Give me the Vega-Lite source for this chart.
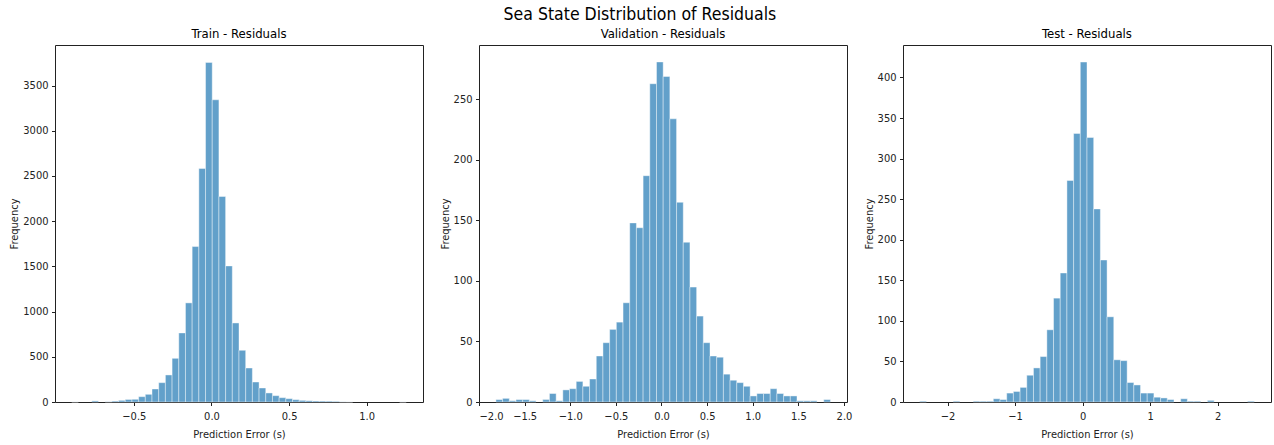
{
  "$schema": "https://vega.github.io/schema/vega-lite/v6.json",
  "background": "white",
  "padding": {"left": 8, "top": 6, "right": 3, "bottom": 4},
  "title": {"text": "Sea State Distribution of Residuals", "fontSize": 17.5, "font": "DejaVu Sans Condensed, Liberation Sans Narrow, DejaVu Sans", "fontWeight": "normal", "anchor": "middle", "color": "black", "offset": 4},
  "spacing": 56,
  "bounds": "flush",
  "data": {"values": [
    {"split": "Train", "bin_start": -0.9000, "bin_end": -0.8569, "count": 1},
    {"split": "Train", "bin_start": -0.7707, "bin_end": -0.7276, "count": 12},
    {"split": "Train", "bin_start": -0.6845, "bin_end": -0.6414, "count": 3},
    {"split": "Train", "bin_start": -0.6414, "bin_end": -0.5983, "count": 10},
    {"split": "Train", "bin_start": -0.5983, "bin_end": -0.5552, "count": 18},
    {"split": "Train", "bin_start": -0.5552, "bin_end": -0.5121, "count": 28},
    {"split": "Train", "bin_start": -0.5121, "bin_end": -0.4690, "count": 30},
    {"split": "Train", "bin_start": -0.4690, "bin_end": -0.4259, "count": 59},
    {"split": "Train", "bin_start": -0.4259, "bin_end": -0.3828, "count": 85},
    {"split": "Train", "bin_start": -0.3828, "bin_end": -0.3397, "count": 144},
    {"split": "Train", "bin_start": -0.3397, "bin_end": -0.2966, "count": 214},
    {"split": "Train", "bin_start": -0.2966, "bin_end": -0.2535, "count": 299},
    {"split": "Train", "bin_start": -0.2535, "bin_end": -0.2104, "count": 483},
    {"split": "Train", "bin_start": -0.2104, "bin_end": -0.1673, "count": 764},
    {"split": "Train", "bin_start": -0.1673, "bin_end": -0.1242, "count": 1096},
    {"split": "Train", "bin_start": -0.1242, "bin_end": -0.0811, "count": 1719},
    {"split": "Train", "bin_start": -0.0811, "bin_end": -0.0380, "count": 2582},
    {"split": "Train", "bin_start": -0.0380, "bin_end": 0.0051, "count": 3755},
    {"split": "Train", "bin_start": 0.0051, "bin_end": 0.0482, "count": 3342},
    {"split": "Train", "bin_start": 0.0482, "bin_end": 0.0913, "count": 2273},
    {"split": "Train", "bin_start": 0.0913, "bin_end": 0.1344, "count": 1505},
    {"split": "Train", "bin_start": 0.1344, "bin_end": 0.1775, "count": 874},
    {"split": "Train", "bin_start": 0.1775, "bin_end": 0.2206, "count": 572},
    {"split": "Train", "bin_start": 0.2206, "bin_end": 0.2637, "count": 376},
    {"split": "Train", "bin_start": 0.2637, "bin_end": 0.3068, "count": 221},
    {"split": "Train", "bin_start": 0.3068, "bin_end": 0.3499, "count": 155},
    {"split": "Train", "bin_start": 0.3499, "bin_end": 0.3930, "count": 100},
    {"split": "Train", "bin_start": 0.3930, "bin_end": 0.4361, "count": 70},
    {"split": "Train", "bin_start": 0.4361, "bin_end": 0.4792, "count": 48},
    {"split": "Train", "bin_start": 0.4792, "bin_end": 0.5223, "count": 37},
    {"split": "Train", "bin_start": 0.5223, "bin_end": 0.5654, "count": 26},
    {"split": "Train", "bin_start": 0.5654, "bin_end": 0.6085, "count": 18},
    {"split": "Train", "bin_start": 0.6085, "bin_end": 0.6516, "count": 15},
    {"split": "Train", "bin_start": 0.6516, "bin_end": 0.6947, "count": 11},
    {"split": "Train", "bin_start": 0.6947, "bin_end": 0.7378, "count": 10},
    {"split": "Train", "bin_start": 0.7378, "bin_end": 0.7809, "count": 9},
    {"split": "Train", "bin_start": 0.7809, "bin_end": 0.8240, "count": 7},
    {"split": "Train", "bin_start": 0.8240, "bin_end": 0.8671, "count": 2},
    {"split": "Train", "bin_start": 0.8671, "bin_end": 0.9102, "count": 1},
    {"split": "Train", "bin_start": 1.2119, "bin_end": 1.2550, "count": 1},

    {"split": "Validation", "bin_start": -1.8150, "bin_end": -1.7417, "count": 2},
    {"split": "Validation", "bin_start": -1.7417, "bin_end": -1.6683, "count": 3},
    {"split": "Validation", "bin_start": -1.6683, "bin_end": -1.5950, "count": 1},
    {"split": "Validation", "bin_start": -1.5950, "bin_end": -1.5216, "count": 2},
    {"split": "Validation", "bin_start": -1.5216, "bin_end": -1.4483, "count": 2},
    {"split": "Validation", "bin_start": -1.4483, "bin_end": -1.3750, "count": 1},
    {"split": "Validation", "bin_start": -1.3016, "bin_end": -1.2283, "count": 2},
    {"split": "Validation", "bin_start": -1.2283, "bin_end": -1.1549, "count": 7},
    {"split": "Validation", "bin_start": -1.1549, "bin_end": -1.0816, "count": 1},
    {"split": "Validation", "bin_start": -1.0816, "bin_end": -1.0083, "count": 10},
    {"split": "Validation", "bin_start": -1.0083, "bin_end": -0.9349, "count": 11},
    {"split": "Validation", "bin_start": -0.9349, "bin_end": -0.8616, "count": 17},
    {"split": "Validation", "bin_start": -0.8616, "bin_end": -0.7882, "count": 13},
    {"split": "Validation", "bin_start": -0.7882, "bin_end": -0.7149, "count": 19},
    {"split": "Validation", "bin_start": -0.7149, "bin_end": -0.6416, "count": 38},
    {"split": "Validation", "bin_start": -0.6416, "bin_end": -0.5682, "count": 49},
    {"split": "Validation", "bin_start": -0.5682, "bin_end": -0.4949, "count": 60},
    {"split": "Validation", "bin_start": -0.4949, "bin_end": -0.4215, "count": 66},
    {"split": "Validation", "bin_start": -0.4215, "bin_end": -0.3482, "count": 82},
    {"split": "Validation", "bin_start": -0.3482, "bin_end": -0.2749, "count": 148},
    {"split": "Validation", "bin_start": -0.2749, "bin_end": -0.2015, "count": 144},
    {"split": "Validation", "bin_start": -0.2015, "bin_end": -0.1282, "count": 187},
    {"split": "Validation", "bin_start": -0.1282, "bin_end": -0.0548, "count": 263},
    {"split": "Validation", "bin_start": -0.0548, "bin_end": 0.0185, "count": 281},
    {"split": "Validation", "bin_start": 0.0185, "bin_end": 0.0918, "count": 269},
    {"split": "Validation", "bin_start": 0.0918, "bin_end": 0.1652, "count": 234},
    {"split": "Validation", "bin_start": 0.1652, "bin_end": 0.2385, "count": 165},
    {"split": "Validation", "bin_start": 0.2385, "bin_end": 0.3119, "count": 132},
    {"split": "Validation", "bin_start": 0.3119, "bin_end": 0.3852, "count": 95},
    {"split": "Validation", "bin_start": 0.3852, "bin_end": 0.4585, "count": 71},
    {"split": "Validation", "bin_start": 0.4585, "bin_end": 0.5319, "count": 49},
    {"split": "Validation", "bin_start": 0.5319, "bin_end": 0.6052, "count": 38},
    {"split": "Validation", "bin_start": 0.6052, "bin_end": 0.6786, "count": 37},
    {"split": "Validation", "bin_start": 0.6786, "bin_end": 0.7519, "count": 23},
    {"split": "Validation", "bin_start": 0.7519, "bin_end": 0.8252, "count": 18},
    {"split": "Validation", "bin_start": 0.8252, "bin_end": 0.8986, "count": 16},
    {"split": "Validation", "bin_start": 0.8986, "bin_end": 0.9719, "count": 13},
    {"split": "Validation", "bin_start": 0.9719, "bin_end": 1.0453, "count": 5},
    {"split": "Validation", "bin_start": 1.0453, "bin_end": 1.1186, "count": 7},
    {"split": "Validation", "bin_start": 1.1186, "bin_end": 1.1919, "count": 7},
    {"split": "Validation", "bin_start": 1.1919, "bin_end": 1.2653, "count": 11},
    {"split": "Validation", "bin_start": 1.2653, "bin_end": 1.3386, "count": 7},
    {"split": "Validation", "bin_start": 1.3386, "bin_end": 1.4120, "count": 5},
    {"split": "Validation", "bin_start": 1.4120, "bin_end": 1.4853, "count": 5},
    {"split": "Validation", "bin_start": 1.4853, "bin_end": 1.5586, "count": 1},
    {"split": "Validation", "bin_start": 1.5586, "bin_end": 1.6320, "count": 1},
    {"split": "Validation", "bin_start": 1.6320, "bin_end": 1.7053, "count": 1},
    {"split": "Validation", "bin_start": 1.7787, "bin_end": 1.8520, "count": 2},

    {"split": "Test", "bin_start": -2.4130, "bin_end": -2.3139, "count": 1},
    {"split": "Test", "bin_start": -1.9174, "bin_end": -1.8182, "count": 1},
    {"split": "Test", "bin_start": -1.6200, "bin_end": -1.5208, "count": 1},
    {"split": "Test", "bin_start": -1.5208, "bin_end": -1.4217, "count": 1},
    {"split": "Test", "bin_start": -1.4217, "bin_end": -1.3226, "count": 1},
    {"split": "Test", "bin_start": -1.3226, "bin_end": -1.2234, "count": 4},
    {"split": "Test", "bin_start": -1.2234, "bin_end": -1.1243, "count": 3},
    {"split": "Test", "bin_start": -1.1243, "bin_end": -1.0252, "count": 11},
    {"split": "Test", "bin_start": -1.0252, "bin_end": -0.9261, "count": 13},
    {"split": "Test", "bin_start": -0.9261, "bin_end": -0.8269, "count": 18},
    {"split": "Test", "bin_start": -0.8269, "bin_end": -0.7278, "count": 33},
    {"split": "Test", "bin_start": -0.7278, "bin_end": -0.6287, "count": 42},
    {"split": "Test", "bin_start": -0.6287, "bin_end": -0.5295, "count": 56},
    {"split": "Test", "bin_start": -0.5295, "bin_end": -0.4304, "count": 89},
    {"split": "Test", "bin_start": -0.4304, "bin_end": -0.3313, "count": 128},
    {"split": "Test", "bin_start": -0.3313, "bin_end": -0.2321, "count": 159},
    {"split": "Test", "bin_start": -0.2321, "bin_end": -0.1330, "count": 273},
    {"split": "Test", "bin_start": -0.1330, "bin_end": -0.0339, "count": 331},
    {"split": "Test", "bin_start": -0.0339, "bin_end": 0.0653, "count": 419},
    {"split": "Test", "bin_start": 0.0653, "bin_end": 0.1644, "count": 326},
    {"split": "Test", "bin_start": 0.1644, "bin_end": 0.2635, "count": 238},
    {"split": "Test", "bin_start": 0.2635, "bin_end": 0.3626, "count": 175},
    {"split": "Test", "bin_start": 0.3626, "bin_end": 0.4618, "count": 105},
    {"split": "Test", "bin_start": 0.4618, "bin_end": 0.5609, "count": 52},
    {"split": "Test", "bin_start": 0.5609, "bin_end": 0.6600, "count": 51},
    {"split": "Test", "bin_start": 0.6600, "bin_end": 0.7592, "count": 24},
    {"split": "Test", "bin_start": 0.7592, "bin_end": 0.8583, "count": 21},
    {"split": "Test", "bin_start": 0.8583, "bin_end": 0.9574, "count": 11},
    {"split": "Test", "bin_start": 0.9574, "bin_end": 1.0566, "count": 11},
    {"split": "Test", "bin_start": 1.0566, "bin_end": 1.1557, "count": 6},
    {"split": "Test", "bin_start": 1.1557, "bin_end": 1.2548, "count": 5},
    {"split": "Test", "bin_start": 1.2548, "bin_end": 1.3539, "count": 3},
    {"split": "Test", "bin_start": 1.4531, "bin_end": 1.5522, "count": 4},
    {"split": "Test", "bin_start": 1.5522, "bin_end": 1.6513, "count": 1},
    {"split": "Test", "bin_start": 1.6513, "bin_end": 1.7505, "count": 1},
    {"split": "Test", "bin_start": 1.8496, "bin_end": 1.9487, "count": 2},
    {"split": "Test", "bin_start": 2.4444, "bin_end": 2.5435, "count": 1}
  ]},
  "hconcat": [
    {
      "width": 368, "height": 357,
      "title": "Train - Residuals",
      "transform": [{"filter": "datum.split === 'Train'"}],
      "mark": {"type": "rect", "fill": "#1f77b4", "fillOpacity": 0.7, "stroke": "white", "strokeWidth": 0.6, "strokeOpacity": 0.7},
      "encoding": {
        "x": {"field": "bin_start", "type": "quantitative", "scale": {"domain": [-1.00775, 1.36275], "nice": false, "zero": false}, "axis": {"values": [-0.5, 0, 0.5, 1], "format": ".1f", "title": "Prediction Error (s)"}},
        "x2": {"field": "bin_end"},
        "y": {"field": "count", "type": "quantitative", "scale": {"domain": [0, 3948], "nice": false}, "axis": {"values": [0, 500, 1000, 1500, 2000, 2500, 3000, 3500], "format": "d", "title": "Frequency"}},
        "y2": {"datum": 0}
      }
    },
    {
      "width": 368, "height": 357,
      "title": "Validation - Residuals",
      "transform": [{"filter": "datum.split === 'Validation'"}],
      "mark": {"type": "rect", "fill": "#1f77b4", "fillOpacity": 0.7, "stroke": "white", "strokeWidth": 0.6, "strokeOpacity": 0.7},
      "encoding": {
        "x": {"field": "bin_start", "type": "quantitative", "scale": {"domain": [-2.0005, 2.0335], "nice": false, "zero": false}, "axis": {"values": [-2, -1.5, -1, -0.5, 0, 0.5, 1, 1.5, 2], "format": ".1f", "title": "Prediction Error (s)"}},
        "x2": {"field": "bin_end"},
        "y": {"field": "count", "type": "quantitative", "scale": {"domain": [0, 295], "nice": false}, "axis": {"values": [0, 50, 100, 150, 200, 250], "format": "d", "title": "Frequency"}},
        "y2": {"datum": 0}
      }
    },
    {
      "width": 368, "height": 357,
      "title": "Test - Residuals",
      "transform": [{"filter": "datum.split === 'Test'"}],
      "mark": {"type": "rect", "fill": "#1f77b4", "fillOpacity": 0.7, "stroke": "white", "strokeWidth": 0.6, "strokeOpacity": 0.7},
      "encoding": {
        "x": {"field": "bin_start", "type": "quantitative", "scale": {"domain": [-2.6608, 2.7913], "nice": false, "zero": false}, "axis": {"values": [-2, -1, 0, 1, 2], "format": "d", "title": "Prediction Error (s)"}},
        "x2": {"field": "bin_end"},
        "y": {"field": "count", "type": "quantitative", "scale": {"domain": [0, 440], "nice": false}, "axis": {"values": [0, 50, 100, 150, 200, 250, 300, 350, 400], "format": "d", "title": "Frequency"}},
        "y2": {"datum": 0}
      }
    }
  ],
  "config": {
    "view": {"stroke": "#222", "strokeWidth": 1},
    "title": {"fontSize": 13, "font": "DejaVu Sans Condensed, Liberation Sans Narrow, DejaVu Sans", "fontWeight": "normal", "color": "black", "offset": 4},
    "axis": {
      "grid": false,
      "domain": false,
      "tickColor": "#222",
      "tickSize": 3.5,
      "tickWidth": 1,
      "labelFont": "DejaVu Sans Condensed, Liberation Sans Narrow, DejaVu Sans",
      "labelFontSize": 11,
      "labelColor": "#222",
      "labelPadding": 3.5,
      "titleFont": "DejaVu Sans Condensed, Liberation Sans Narrow, DejaVu Sans",
      "titleFontSize": 11,
      "titleFontWeight": "normal",
      "titleColor": "#222",
      "titlePadding": 7
    },
    "axisX": {"labelPadding": 4.5},
    "axisY": {"titlePadding": 3}
  }
}
